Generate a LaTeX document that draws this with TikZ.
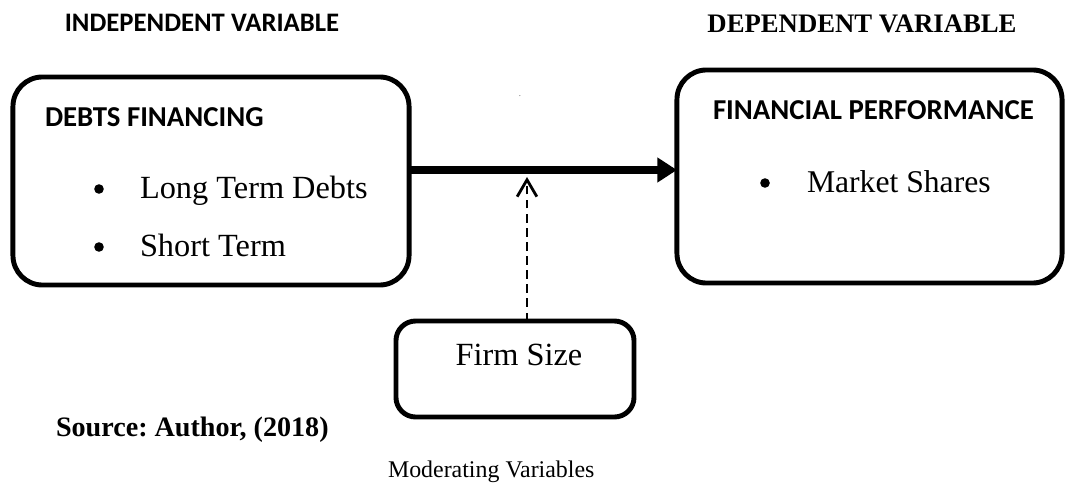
\documentclass[tikz,border=0pt]{standalone}
\usepackage{fontspec}
\setmainfont{Liberation Serif}
\newfontfamily\calibri{Carlito}
\usetikzlibrary{arrows.meta}
\tikzset{varbox/.style={draw,line width=3.5pt,rounded corners=21pt},
	head/.style={font=\calibri\bfseries\fontsize{20.5}{22}\selectfont,anchor=base west},
	item/.style={font=\fontsize{23}{25}\selectfont,anchor=base west},
	bul/.style={circle,fill,minimum size=0.24cm}}

\begin{document}
\frenchspacing
\begin{tikzpicture}[x=0.025cm,y=-0.025cm,every node/.style={inner sep=0pt,outer sep=0pt}]
\useasboundingbox (0,0) rectangle (1065,485);

% boxes
\node[varbox,minimum width=9.9cm,minimum height=5.2cm] (debt) at (211,181) {};
\node[varbox,minimum width=9.625cm,minimum height=5.325cm] (perf) at (869.5,176.5) {};
\node[varbox,rounded corners=14pt,minimum width=5.95cm,minimum height=2.4cm] (firm) at (515,369) {};

% titles
\node[font=\calibri\bfseries\fontsize{19}{21}\selectfont,anchor=base] (indep) at (202,32) {INDEPENDENT VARIABLE};
\node[font=\bfseries\fontsize{19}{21}\selectfont,anchor=base] (dep) at (862,33) {DEPENDENT VARIABLE};
\node[head] (debthead) at (45,127) {DEBTS FINANCING};
\node[head] (perfhead) at (713,120) {FINANCIAL PERFORMANCE};

% lists
\foreach \y/\t [count=\k] in {198/Long Term Debts,256/Short Term} {
	\node[bul] (b\k) at (99,\y-9) {};
	\node[item] (i\k) at (140,\y) {\t};
};
\node[bul] (b3) at (765,183) {};
\node[item,font=\fontsize{22.5}{24}\selectfont] (i3) at (807,192) {Market Shares};

\node[font=\fontsize{23}{25}\selectfont,anchor=base] (firmtxt) at (519,365) {Firm Size};
\node[font=\bfseries\fontsize{20}{22}\selectfont,anchor=base west] (src) at (56,436) {Source: Author, (2018)};
\node[font=\fontsize{17}{19}\selectfont,anchor=base west] (moder) at (388,477) {Moderating Variables};
\node[font=\tiny] (dot) at (520,96) {.};

% arrows
\coordinate (mid) at (540,170);
\coordinate (tip) at (527,177);
\draw[line width=5.5pt,-{Triangle[length=14pt,width=17pt]}] (debt.east |- mid) -- (perf.west |- mid);
\draw[line width=2pt,dash pattern=on 6pt off 4pt,-{Straight Barb[length=12pt,width=14pt]}] (firm.north -| tip) -- (tip);

\end{tikzpicture}
\end{document}
